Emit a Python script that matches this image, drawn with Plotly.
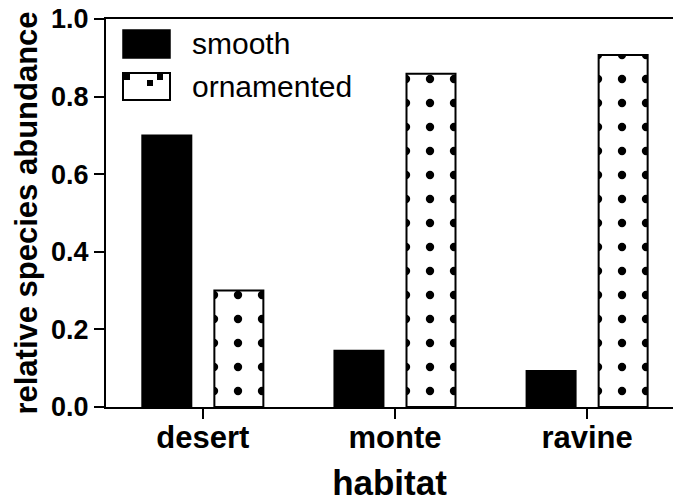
import plotly.graph_objects as go

habitats = ["desert", "monte", "ravine"]
smooth = [0.70, 0.145, 0.093]
ornamented = [0.30, 0.859, 0.907]
y_ticks = [0.0, 0.2, 0.4, 0.6, 0.8, 1.0]
series_names = ["smooth", "ornamented"]

font = "Liberation Sans, Arial, sans-serif"

fig = go.Figure()
fig.add_trace(go.Bar(
    x=habitats, y=smooth, name=series_names[0],
    marker=dict(color="black", line=dict(color="black", width=2)),
))
fig.add_trace(go.Bar(
    x=habitats, y=ornamented, name=series_names[1],
    marker=dict(color="white", line=dict(color="black", width=2),
                pattern=dict(shape=".", size=24, solidity=0.095,
                             fgcolor="black", fgopacity=1, bgcolor="white",
                             fillmode="overlay")),
))

# legend drawn as layout decorations anchored to the plot's top-left corner
legend_shapes = [
    dict(type="rect", xref="paper", yref="paper", xsizemode="pixel", ysizemode="pixel",
         xanchor=0, yanchor=1, x0=17, x1=64, y0=-11, y1=-39,
         fillcolor="black", line=dict(color="black", width=1.5)),
    dict(type="rect", xref="paper", yref="paper", xsizemode="pixel", ysizemode="pixel",
         xanchor=0, yanchor=1, x0=17, x1=64, y0=-54, y1=-81,
         fillcolor="white", line=dict(color="black", width=2)),
]
for (a, b, c, d) in [(18, 24, -55, -61), (41, 47, -61, -67), (51, 57, -55, -61)]:
    legend_shapes.append(dict(type="rect", xref="paper", yref="paper",
                              xsizemode="pixel", ysizemode="pixel", xanchor=0, yanchor=1,
                              x0=a, x1=b, y0=c, y1=d, fillcolor="black", line=dict(width=0)))

legend_labels = [
    dict(text=series_names[0], xref="paper", yref="paper", x=0.148, y=0.936,
         xanchor="left", yanchor="middle", showarrow=False,
         font=dict(size=30, family=font, color="black")),
    dict(text=series_names[1], xref="paper", yref="paper", x=0.148, y=0.825,
         xanchor="left", yanchor="middle", showarrow=False,
         font=dict(size=30, family=font, color="black")),
]

fig.update_layout(
    width=673, height=502,
    margin=dict(l=106, r=0, t=19, b=95),
    paper_bgcolor="white", plot_bgcolor="white",
    barmode="group", bargap=0.25, bargroupgap=0.32,
    font=dict(family=font, color="black"),
    showlegend=False,
    shapes=legend_shapes,
    annotations=legend_labels,
    xaxis=dict(
        range=[-0.504, 2.447], showline=True, linecolor="black", linewidth=2,
        mirror=True, ticks="outside", ticklen=10, tickwidth=2, tickcolor="black",
        ticklabelstandoff=-8,
        tickfont=dict(size=31, family=font, weight="bold"),
        title=dict(text="<b>habitat</b>", font=dict(size=35, family=font), standoff=23),
        showgrid=False,
    ),
    yaxis=dict(
        range=[0, 1.0], tickvals=y_ticks, tickformat=".1f",
        showline=True, linecolor="black", linewidth=2,
        ticks="outside", ticklen=10, tickwidth=2, tickcolor="black",
        tickfont=dict(size=27, family=font, weight="bold"),
        title=dict(text="<b>relative species abundance</b>", font=dict(size=31, family=font), standoff=4),
        showgrid=False, zeroline=False,
    ),
)

fig.write_html("out.html",
               config={"displayModeBar": False},
               post_script="document.body.style.margin='0';document.body.style.overflow='hidden';")
